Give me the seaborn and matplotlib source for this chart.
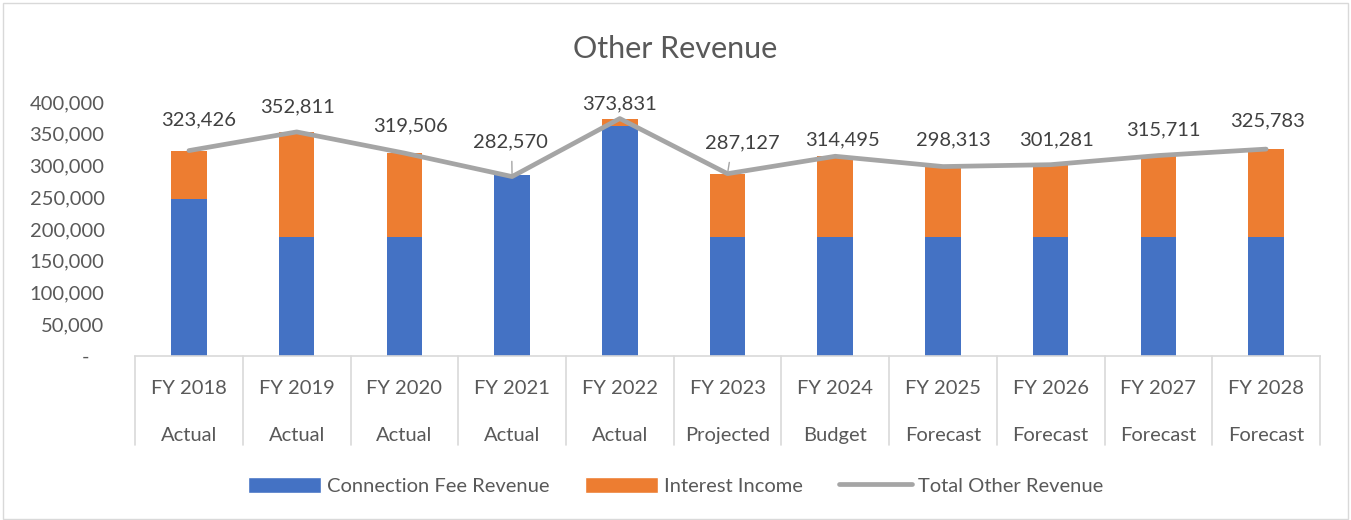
import numpy as np
import pandas as pd
import matplotlib.pyplot as plt
import seaborn as sns
from matplotlib.patches import Patch, Rectangle
from matplotlib.lines import Line2D
import matplotlib.transforms as mtransforms

# data
years = ["FY 2018", "FY 2019", "FY 2020", "FY 2021", "FY 2022", "FY 2023",
         "FY 2024", "FY 2025", "FY 2026", "FY 2027", "FY 2028"]
status = ["Actual", "Actual", "Actual", "Actual", "Actual", "Projected",
          "Budget", "Forecast", "Forecast", "Forecast", "Forecast"]
total = [323426, 352811, 319506, 282570, 373831, 287127,
         314495, 298313, 301281, 315711, 325783]
connection_fee = [248000, 187500, 187500, 284500, 362000, 187500,
                  187500, 187500, 187500, 187500, 187500]
interest = [t - c for t, c in zip(total, connection_fee)]

BLUE = "#4472C4"
ORANGE = "#ED7D31"
GRAY = "#A5A5A5"
TXT = "#595959"
FS = 14.5

sns.set_theme(style="white")
plt.rcParams["font.family"] = ["Lato", "DejaVu Sans"]

df = pd.DataFrame({"year": years, "conn": connection_fee, "int": interest, "total": total})
df["orange_top"] = df["conn"] + df["int"].clip(lower=0)
df["orange_neg"] = df["int"].clip(upper=0)

fig = plt.figure(figsize=(13.51, 5.2), dpi=100)
ax = fig.add_axes([0.1, 0.315, 0.877, 0.489])

bw = 0.33
for col, c in [("orange_top", ORANGE), ("conn", BLUE), ("orange_neg", ORANGE)]:
    sns.barplot(data=df, x="year", y=col, color=c, width=bw, saturation=1,
                linewidth=0, ax=ax)

xs = np.arange(len(years))
sns.lineplot(x=xs, y=df["total"].values, color=GRAY, linewidth=3.4, ax=ax)

ax.set_xlim(-0.5, len(years) - 0.5)
ax.set_ylim(0, 400000)
ax.set_yticks(range(0, 400001, 50000))
ax.set_yticklabels(["-   "] + [f"{v:,}" for v in range(50000, 400001, 50000)],
                   fontsize=FS, color=TXT)
ax.tick_params(axis="y", length=0, pad=22)
ax.set_xticks([])
ax.set_xlabel("")
ax.set_ylabel("")
for s in ["top", "right", "left"]:
    ax.spines[s].set_visible(False)
ax.spines["bottom"].set_color("#D9D9D9")
ax.spines["bottom"].set_linewidth(1.2)

# data labels
offsets = [(10, 31), (1, 25), (6, 27), (-2, 35), (0, 15), (15, 31),
           (7, 16), (10, 27), (6, 25), (5, 26), (1, 28)]
leaders = {3, 5}
for i, (t, (dx, dy)) in enumerate(zip(total, offsets)):
    ax.annotate(f"{t:,}", (i, t), xytext=(dx, dy), textcoords="offset pixels",
                ha="center", va="center", fontsize=FS, color="#404040")
    if i in leaders:
        ax.annotate("", (i, t), xytext=(dx * 0.15, dy - 17), textcoords="offset pixels",
                    arrowprops=dict(arrowstyle="-", color=GRAY, lw=1))

# multi-level category axis
trans = mtransforms.blended_transform_factory(ax.transData, ax.transAxes)
for b in np.arange(-0.5, len(years)):
    ax.plot([b, b], [0, -0.35], transform=trans, color="#D9D9D9", lw=1.2, clip_on=False)
for i, (y, s) in enumerate(zip(years, status)):
    ax.text(i, -0.126, y, transform=trans, ha="center", va="center", fontsize=FS, color=TXT)
    ax.text(i, -0.311, s, transform=trans, ha="center", va="center", fontsize=FS, color=TXT)

fig.text(0.5, 0.905, "Other Revenue", ha="center", va="center", fontsize=22, color=TXT)

handles = [Patch(facecolor=BLUE, label="Connection Fee Revenue"),
           Patch(facecolor=ORANGE, label="Interest Income"),
           Line2D([0], [0], color=GRAY, lw=3.4, label="Total Other Revenue")]
fig.legend(handles=handles, loc="center", bbox_to_anchor=(0.5, 0.066), ncol=3,
           frameon=False, fontsize=FS, handlelength=3.6, handleheight=0.9,
           columnspacing=1.8, handletextpad=0.3, labelcolor=TXT)

fig.patches.append(Rectangle((0.002, 0.002), 0.996, 0.993, transform=fig.transFigure,
                             fill=False, edgecolor="#D9D9D9", lw=1))

fig.savefig("out.png", dpi=100)
